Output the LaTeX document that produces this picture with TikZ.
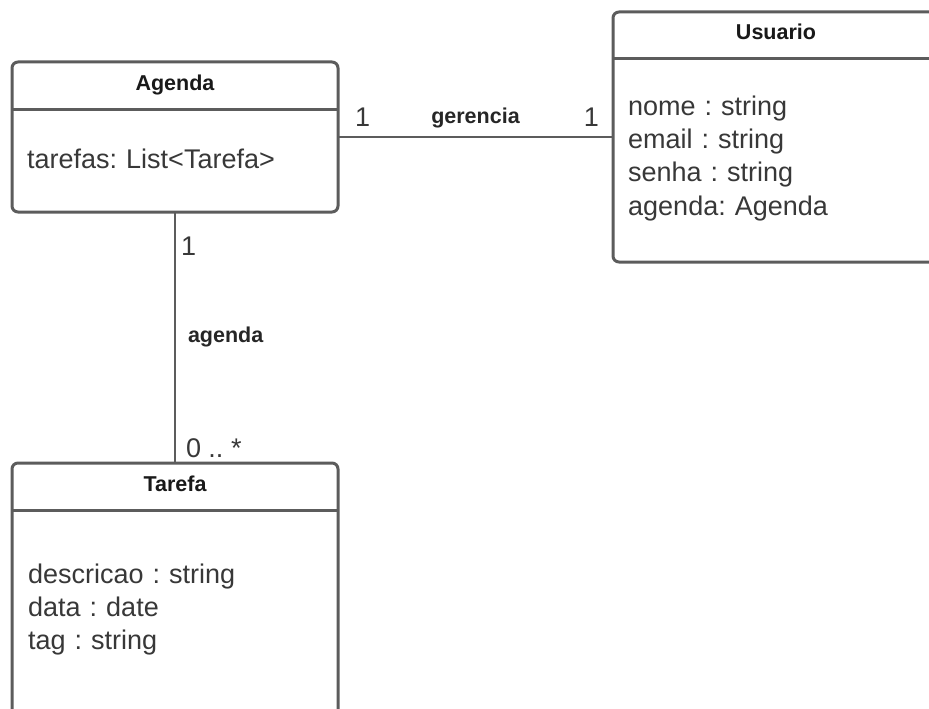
\documentclass[tikz,border=0pt]{standalone}
\usepackage{fontspec}
\setmainfont{Liberation Sans}
\usetikzlibrary{positioning}
\frenchspacing

\definecolor{linegray}{HTML}{5C5C5C}
\definecolor{textgray}{HTML}{383838}

\tikzset{
  classbox/.style={draw=linegray, line width=3pt, rounded corners=6pt, fill=white,
    anchor=north west, outer sep=0pt, inner sep=0pt, minimum width=326pt},
  classname/.style={font=\bfseries\fontsize{21.5}{25}\selectfont, text=black!90, anchor=base, inner sep=0pt},
  attrs/.style={font=\fontsize{27}{33.4}\selectfont, text=textgray, text width=300pt,
    align=left, anchor=base west, inner sep=0pt},
  assoc/.style={draw=linegray, line width=2pt},
  mult/.style={font=\fontsize{27}{30}\selectfont, text=textgray, inner sep=0pt},
  rolename/.style={font=\bfseries\fontsize{21.5}{25}\selectfont, text=black!85, inner sep=0pt},
}

\begin{document}
\begin{tikzpicture}[x=1pt,y=-1pt]

    \clip (0,0) rectangle (929,709);

    % Classes
    \node[classbox, minimum height=150pt] (agenda) at (12,62) {};
    \node[classbox, minimum height=250pt] (usuario) at (613,12) {};
    \node[classbox, minimum height=300pt] (tarefa) at (12,463) {};

    % Header separators
    \foreach \cls in {agenda,usuario,tarefa}
        \draw[linegray, line width=3pt] ([yshift=-47pt]\cls.north west) -- ([yshift=-47pt]\cls.north east);

    % Class names
    \node[classname] (agendaname) at ([yshift=-28pt]agenda.north) {Agenda};
    \node[classname] (usuarioname) at ([yshift=-28pt]usuario.north) {Usuario};
    \node[classname] (tarefaname) at ([yshift=-28.5pt]tarefa.north) {Tarefa};

    % Attributes
    \node[attrs] (agendaattrs) at ([xshift=15pt,yshift=-106pt]agenda.north west) {tarefas: List<Tarefa>};
    \node[attrs] (usuarioattrs) at ([xshift=15pt,yshift=-103pt]usuario.north west)
        {nome : string\\email : string\\senha : string\\agenda: Agenda};
    \node[attrs] (tarefaattrs) at ([xshift=16pt,yshift=-120pt]tarefa.north west)
        {descricao : string\\data : date\\tag : string};

    % Associations
    \draw[assoc] (agenda.east) -- (usuario.west)
        node[mult, pos=0, anchor=base west, xshift=16pt, yshift=11pt] (gerenciaA) {1}
        node[rolename, pos=0.5, anchor=base, yshift=14pt] (gerencia) {gerencia}
        node[mult, pos=1, anchor=base east, xshift=-13pt, yshift=11pt] (gerenciaU) {1};

    \draw[assoc] (agenda.south) -- (tarefa.north)
        node[mult, pos=0, anchor=base west, xshift=5pt, yshift=-43pt] (agendaA) {1}
        node[rolename, pos=0.5, anchor=base west, xshift=12pt, yshift=-4.5pt] (agendarole) {agenda}
        node[mult, pos=1, anchor=base west, xshift=10pt, yshift=6pt] (agendaT) {0 .. *};

\end{tikzpicture}
\end{document}
